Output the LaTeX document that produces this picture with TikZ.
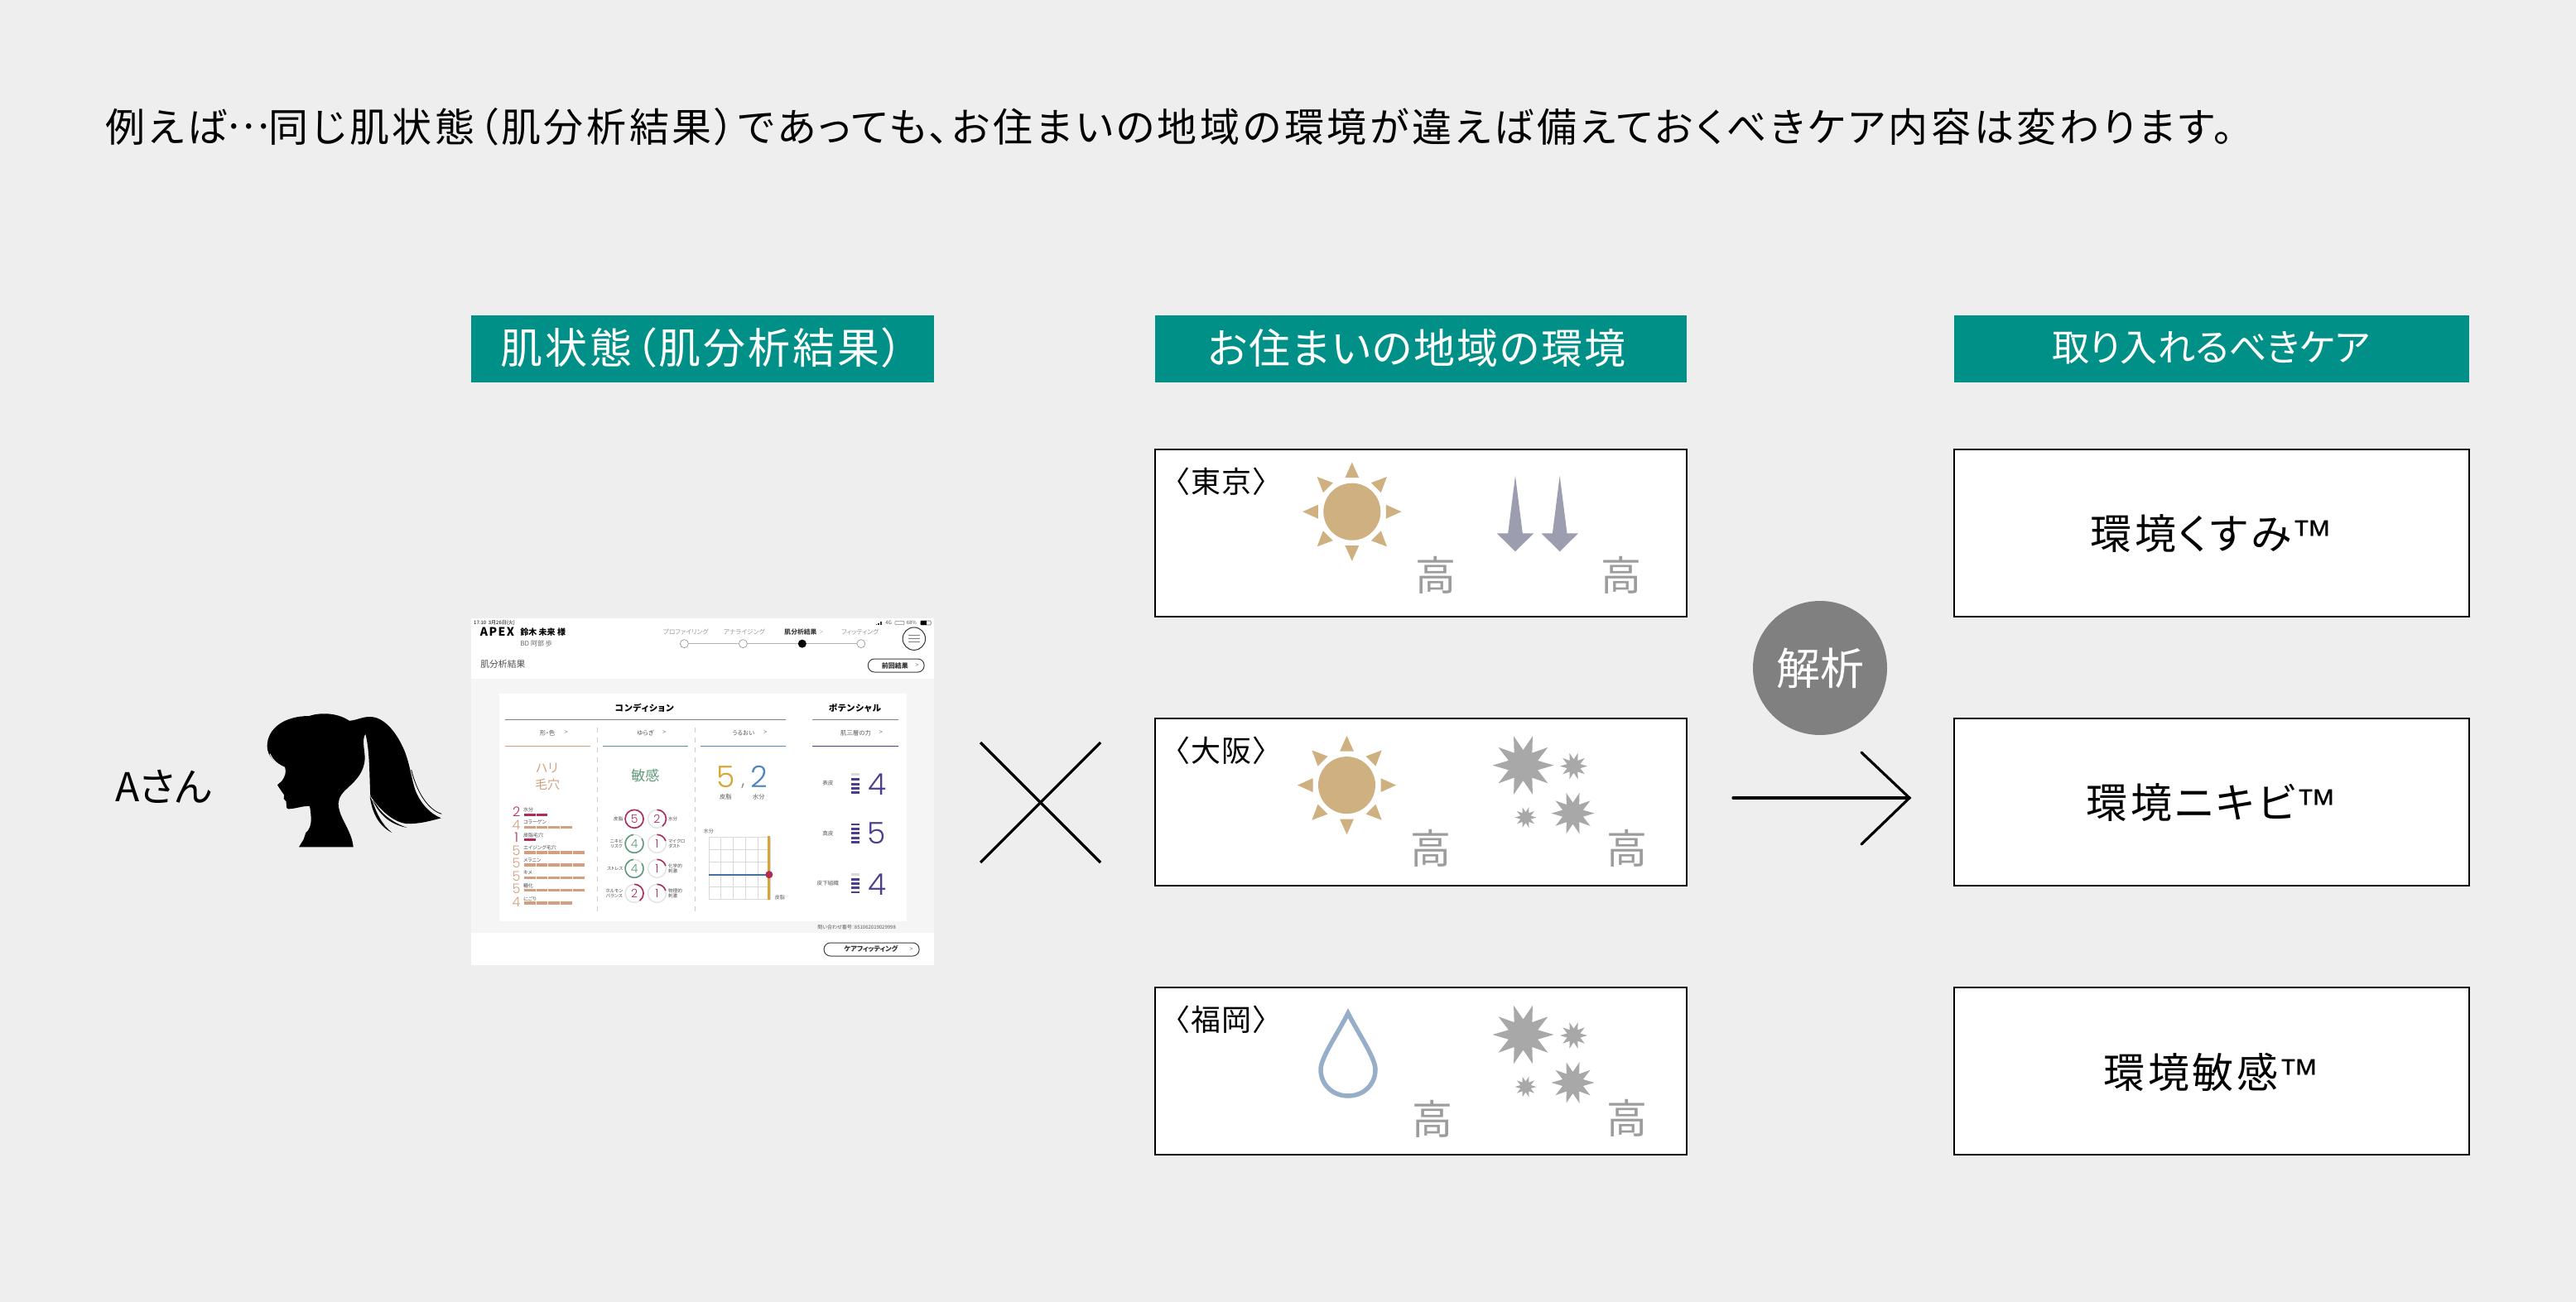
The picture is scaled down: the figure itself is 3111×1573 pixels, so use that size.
\documentclass[tikz,border=0pt]{standalone}
\usepackage{fontspec}
\setmainfont{Noto Sans CJK JP}[RawFeature=+palt]
\newfontfamily\numf{Poppins}[UprightFont={* Light}]
\newfontfamily\latf{Liberation Sans}
\usetikzlibrary{shapes.geometric}
\definecolor{bgc}{HTML}{EEEEEE}
\definecolor{teal}{HTML}{009088}
\definecolor{suncol}{HTML}{CFB080}
\definecolor{gaokao}{HTML}{9C9C9C}
\definecolor{arrowc}{HTML}{9C9EB0}
\definecolor{starc}{HTML}{A8A8A8}
\definecolor{dropc}{HTML}{97AEC8}
\definecolor{circc}{HTML}{808080}
\definecolor{crim}{HTML}{B02A55}
\definecolor{tanb}{HTML}{D39F7F}
\definecolor{grn}{HTML}{5F9A7D}
\definecolor{blu}{HTML}{4F85BD}
\definecolor{gold}{HTML}{D8A530}
\definecolor{purp}{HTML}{4A3F8F}
\definecolor{panel}{HTML}{F5F5F5}
\definecolor{ringbg}{HTML}{E2E2E2}
\newcommand\fsz[1]{\fontsize{#1}{#1}\selectfont\baselineskip=1.2\baselineskip}
\newcommand\tmark{{\latf\fontsize{25}{25}\selectfont ™}}
\tikzset{
  txt/.style={inner sep=0pt,outer sep=0pt,text=black},
  big/.style={txt,font=\fsz{24}},
  careword/.style={txt,font=\fsz{25}\addfontfeature{LetterSpace=7}},
  gao/.style={txt,text=gaokao,font=\fsz{24.5}},
  sunbody/.style={fill=suncol},
  tiny/.style={txt,text=black!65,font=\fsz{3}},
  chev/.style={txt,text=black!50,font=\fsz{4}},
  cardbox/.style={draw=black,fill=white,line width=1pt},
  burst/.style={star,star points=10,star point ratio=2,shape border rotate=18,fill=starc,inner sep=0pt,outer sep=0pt,draw=none},
  sunicon/.pic={
    \fill[sunbody] (0,0) circle[radius=34.5];
    \foreach \a in {0,45,...,315}{
      \fill[sunbody,rotate=\a] (0,-59.6) -- (8.4,-41) -- (-8.4,-41) -- cycle;
    }
  },
  darrow/.pic={
    \fill[arrowc] (0,-69.5) -- (8.8,0) -- (22.3,0) -- (0,22) -- (-22.3,0) -- (-8.8,0) -- cycle;
  },
  burstgroup/.pic={
    \node[burst,minimum size=37pt] (-a) at (0,0) {};
    \node[burst,minimum size=16.5pt] (-b) at (61,1) {};
    \node[burst,minimum size=26pt] (-c) at (60,58) {};
    \node[burst,minimum size=13pt] (-d) at (3,63) {};
  }
}
\begin{document}
\begin{tikzpicture}[x=0.5pt,y=-0.5pt]
\fill[bgc] (0,0) rectangle (3111,1573);
\useasboundingbox (0,0) rectangle (3111,1573);

% title
\node[txt,anchor=west,font=\fsz{24}\addfontfeature{LetterSpace=7.7}] (title) at (127,153) {例えば\raisebox{0.33em}{…}同じ肌状態（肌分析結果）であっても、お住まいの地域の環境が違えば備えておくべきケア内容は変わります。};

% headers
\fill[teal] (569,380.5) rectangle (1128,462);
\fill[teal] (1394.5,380.5) rectangle (2037,462);
\fill[teal] (2360,380.5) rectangle (2982,462);
\node[txt,text=white,font=\fsz{25.5}\addfontfeature{LetterSpace=6}] (h1) at (848,420) {肌状態（肌分析結果）};
\node[txt,text=white,font=\fsz{25}\addfontfeature{LetterSpace=4}] (h2) at (1711,420) {お住まいの地域の環境};
\node[txt,text=white,font=\fsz{22.6}] (h3) at (2670,420) {取り入れるべきケア};

% boxes
\foreach \n/\y in {a/543,b/868,c/1193}{
  \draw[cardbox] (1394.5,\y) rectangle (2037,\y+202);
  \draw[cardbox] (2360,\y) rectangle (2982,\y+202);
}
\node[txt,font=\fsz{18}\addfontfeature{LetterSpace=4},anchor=west] (lt) at (1419,582) {〈東京〉};
\node[txt,font=\fsz{18}\addfontfeature{LetterSpace=4},anchor=west] (lo) at (1419,907) {〈大阪〉};
\node[txt,font=\fsz{18}\addfontfeature{LetterSpace=4},anchor=west] (lf) at (1419,1232) {〈福岡〉};

\node[careword] (r1) at (2671,645) {環境くすみ\tmark};
\node[careword] (r2) at (2671,970) {環境ニキビ\tmark};
\node[careword] (r3) at (2671,1295) {環境敏感\tmark};

\pic at (1632.8,618.2) {sunicon};
\pic at (1626.5,948.6) {sunicon};
\pic at (1830,644.3) {darrow};
\pic at (1883.7,644.3) {darrow};
\pic (bo) at (1839.5,924.6) {burstgroup};
\pic (bf) at (1839.5,1250) {burstgroup};
\draw[dropc,line width=2.75pt] (1628,1224) .. controls (1616,1248) and (1595,1278) .. (1595,1292)
  .. controls (1595,1311) and (1610,1324) .. (1628,1324)
  .. controls (1646,1324) and (1661,1311) .. (1661,1292)
  .. controls (1661,1278) and (1640,1248) .. (1628,1224) -- cycle;

\node[gao] (g1) at (1734,695) {高};
\node[gao] (g2) at (1958,695) {高};
\node[gao] (g3) at (1728,1025) {高};
\node[gao] (g4) at (1965,1025) {高};
\node[gao] (g5) at (1730,1352) {高};
\node[gao] (g6) at (1965,1351) {高};

% analysis
\node[circle,fill=circc,minimum size=81pt,inner sep=0pt,text=white,font=\fsz{26.5}] (kai) at (2198,807) {解析};
\coordinate (as) at (2093,964);
\coordinate (ae) at (2306,964);
\coordinate (au) at (2248,909);
\coordinate (ad) at (2248,1020);
\draw[line width=1.6pt,line cap=round,line join=miter] (as) -- (ae);
\draw[line width=1.6pt,line cap=round,line join=miter] (au) -- (ae) -- (ad);
\coordinate (x1) at (1184,897);
\coordinate (x2) at (1329,1042);
\coordinate (x3) at (1329,897);
\coordinate (x4) at (1184,1042);
\draw[line width=1.6pt] (x1) -- (x2);
\draw[line width=1.6pt] (x3) -- (x4);

% person
\node[big,anchor=west] (aname) at (139,950) {Aさん};
\begin{scope}[shift={(100,840)},scale=0.33333]
\fill[black]
(668,185) .. controls (668,120) and (730,75) .. (820,75)
.. controls (860,62) and (920,62) .. (965,92)
.. controls (990,92) and (1010,78) .. (1040,78)
.. controls (1090,78) and (1135,130) .. (1165,200)
.. controls (1185,250) and (1190,300) .. (1205,345)
.. controls (1225,395) and (1260,430) .. (1298,445)
.. controls (1260,455) and (1215,468) .. (1170,465)
.. controls (1125,458) and (1080,420) .. (1042,365)
.. controls (1038,290) and (1040,200) .. (1024,140)
.. controls (1010,160) and (1022,200) .. (1022,230)
.. controls (1018,290) and (975,320) .. (950,345)
.. controls (930,365) and (922,385) .. (928,410)
.. controls (935,450) and (975,495) .. (980,550)
-- (783,550) -- (800,522) -- (808,498)
.. controls (820,490) and (828,470) .. (827,445)
.. controls (826,430) and (825,415) .. (822,402)
.. controls (795,400) and (770,412) .. (745,412)
.. controls (735,412) and (738,395) .. (737,385)
-- (728,375) -- (730,362) -- (718,345) -- (705,325) -- (722,310)
.. controls (732,295) and (738,280) .. (733,262)
.. controls (705,250) and (668,225) .. (668,185) -- cycle;
% loose strands of the ponytail
\fill[black] (1040,365) .. controls (1048,430) and (1075,475) .. (1120,498)
  .. controls (1085,470) and (1065,430) .. (1050,385) -- cycle;
\fill[black] (1050,380) .. controls (1080,445) and (1125,470) .. (1175,480)
  .. controls (1135,466) and (1090,440) .. (1062,395) -- cycle;
\draw[black,line width=0.4pt] (1190,270) .. controls (1210,350) and (1250,415) .. (1300,430);
\draw[bgc,line width=0.5pt] (678,212) .. controls (690,240) and (710,252) .. (732,262);
\end{scope}

% tablet screenshot (coordinates as read from the crop)
\begin{scope}[shift={(560,740)},xscale=0.36996,yscale=0.33333]
\fill[white] (24,20) rectangle (1536,1278);
\fill[panel] (24,240) rectangle (1536,1162);
\fill[white] (115,295) rectangle (1445,1120);

\node[txt,anchor=west,font=\fsz{3}] (s1) at (33,37) {17:10\ \ 3月26日(火)};
\node[txt,anchor=west,font=\bfseries\fsz{7}\addfontfeature{LetterSpace=10}] (s2) at (54,70) {APEX};
\node[txt,anchor=west,font=\bfseries\fsz{5}] (s3) at (185,70) {鈴木 未来 様};
\node[txt,anchor=west,text=black!60,font=\fsz{4}] (s4) at (185,113) {BD 阿部 歩};
\node[txt,text=black!40,font=\fsz{3.9}] (st1) at (725,71) {プロファイリング};
\node[txt,text=black!40,font=\fsz{3.9}] (st2) at (916,71) {アナライジング};
\node[txt,text=black!75,font=\bfseries\fsz{3.9}] (st3) at (1100,71) {肌分析結果};
\node[chev,text=black!25] (st3c) at (1168,71) {>};
\node[txt,text=black!40,font=\fsz{3.9}] (st4) at (1294,71) {フィッティング};
\draw[black!30,line width=0.4pt] (720,113) -- (1297,113);
\foreach \i/\x in {1/720,2/912,4/1297}{
  \node[circle,draw=black!40,fill=white,line width=0.35pt,minimum size=5pt,inner sep=0pt] (dot\i) at (\x,113) {};
}
\node[circle,fill=black,minimum size=5pt,inner sep=0pt] (dot3) at (1105,113) {};
% status
\fill[black!80] (1345,42) rectangle (1350,46);
\fill[black!80] (1352,38) rectangle (1357,46);
\fill[black!80] (1359,34) rectangle (1364,46);
\node[txt,text=black!65,font=\fsz{3}] (s5) at (1387,37) {4G};
\draw[black!50,line width=0.3pt,rounded corners=0.5pt] (1408,31) rectangle (1438,44);
\node[txt,text=black!65,font=\fsz{3}] (s6) at (1462,37) {68\%};
\draw[black!60,line width=0.3pt,rounded corners=0.5pt] (1491,30) rectangle (1525,45);
\fill[black] (1491,30) rectangle (1512,45);
% menu
\node[circle,draw=black!80,fill=white,line width=0.5pt,minimum size=13.7pt,inner sep=0pt] (menu) at (1470,95) {};
\foreach \y in {83,95,107}{ \draw[black!50,line width=0.5pt] (1452,\y) -- (1489,\y); }

\node[txt,anchor=west,text=black!70,font=\fsz{5.4}] (s7) at (55,187) {肌分析結果};
\node[draw=black!75,fill=white,line width=0.5pt,rounded corners=3.9pt,minimum width=33.9pt,minimum height=8pt,inner sep=0pt] (btn1) at (1411.5,192) {};
\node[txt,font=\bfseries\fsz{4},text=black!80] (btn1t) at (1408,192) {前回結果};
\node[chev] (btn1c) at (1480,192) {>};

\node[txt,font=\bfseries\fsz{5.3}\addfontfeature{LetterSpace=8}] (c1) at (590,345) {コンディション};
\node[txt,font=\bfseries\fsz{5.3}\addfontfeature{LetterSpace=8}] (c2) at (1277,345) {ポテンシャル};
\draw[black!50,line width=0.7pt] (135,388) -- (1052,388);
\draw[black!50,line width=0.7pt] (1138,388) -- (1420,388);

\node[tiny,font=\fsz{3.7}] (sh1) at (273,436) {形・色};
\node[chev] (sh1c) at (335,436) {>};
\node[tiny,font=\fsz{3.7}] (sh2) at (593,436) {ゆらぎ};
\node[chev] (sh2c) at (655,436) {>};
\node[tiny,font=\fsz{3.7}] (sh3) at (913,436) {うるおい};
\node[chev] (sh3c) at (985,436) {>};
\node[tiny,font=\fsz{3.7}] (sh4) at (1280,436) {肌三層の力};
\node[chev] (sh4c) at (1362,436) {>};
\draw[tanb,line width=0.5pt] (135,485) -- (413,485);
\draw[grn,line width=0.5pt] (453,485) -- (733,485);
\draw[blu,line width=0.5pt] (773,485) -- (1052,485);
\draw[purp,line width=0.5pt] (1138,485) -- (1420,485);
\draw[black!20,dashed,line width=0.3pt] (435,418) -- (435,1088);
\draw[black!20,dashed,line width=0.3pt] (755,418) -- (755,1088);

\node[txt,text=tanb,font=\fsz{7.5}] (harit) at (272,563) {ハリ};
\node[txt,text=tanb,font=\fsz{7.5}] (keana) at (273,622) {毛穴};
\node[txt,text=grn,font=\fsz{8.5}] (bink) at (593,592) {敏感};

\node[txt,text=gold,font=\numf\fsz{18}] (n5) at (857,595) {5};
\node[txt,text=black!50,font=\numf\fsz{11}] (ncomma) at (912,630) {,};
\node[txt,text=blu,font=\numf\fsz{18}] (n2) at (965,595) {2};
\node[tiny,font=\fsz{3.6}] (l1) at (855,667) {皮脂};
\node[tiny,font=\fsz{3.6}] (l2) at (963,667) {水分};

% score list
\foreach \i/\n/\lab/\yn/\yl/\yb/\col in {
  1/2/水分/723/715/733/crim,
  2/4/コラーゲン/770/760/778/tanb,
  3/1/皮脂毛穴/816/807/824/crim,
  4/5/エイジング毛穴/862/852/870/tanb,
  5/5/メラニン/908/898/915/tanb,
  6/5/キメ/955/944/961/tanb,
  7/5/糖化/1001/990/1007/tanb,
  8/4/にごり/1049/1037/1053/tanb}{
  \node[txt,text=\col,font=\numf\fsz{8}] (num\i) at (172,\yn) {\n};
  \node[txt,anchor=west,text=black!70,font=\fsz{3}] (lab\i) at (195,\yl) {\lab};
  \foreach \k in {1,...,\n}{
    \fill[\col] ({197+(\k-1)*40},{\yb-5}) rectangle ({197+\k*40-3},{\yb+5});
  }
}
% ring positions and labels
\foreach \i/\cx/\cy in {1/557/748,2/557/838,3/557/928,4/557/1018,5/631/748,6/631/838,7/631/928,8/631/1018}{
  \coordinate (ring\i) at (\cx,\cy);
}
\foreach \i/\y/\lab in {1/748/皮脂,2/838/{ニキビ\\リスク},3/928/ストレス,4/1018/{ホルモン\\バランス}}{
  \node[txt,anchor=east,align=center,text=black!70,font=\fsz{2.8}] (rl\i) at (520,\y) {\lab};
}
\foreach \i/\y/\lab in {5/748/水分,6/838/{マイクロ\\ダスト},7/928/{化学的\\刺激},8/1018/{物理的\\刺激}}{
  \node[txt,anchor=west,align=left,text=black!70,font=\fsz{2.8}] (rl\i) at (668,\y) {\lab};
}
% chart
\foreach \x in {800,840,880,920,960,1000}{ \draw[black!15,line width=0.3pt] (\x,815) -- (\x,1040); }
\foreach \y in {815,860,905,950,995,1040}{ \draw[black!15,line width=0.3pt] (800,\y) -- (1000,\y); }
\draw[gold,line width=1.5pt] (997,810) -- (997,1040);
\draw[blu!85!black,line width=1pt] (800,950) -- (997,950);
\node[circle,fill=crim,minimum size=4.5pt,inner sep=0pt] (cdot) at (997,950) {};
\node[tiny] (cx) at (800,792) {水分};
\node[tiny] (cy) at (1032,1032) {皮脂};
% potential
\node[tiny,font=\fsz{3.3}] (p1) at (1189,619) {表皮};
\node[tiny,font=\fsz{3.3}] (p2) at (1189,800) {真皮};
\node[tiny,font=\fsz{3.3}] (p3) at (1189,981) {皮下組織};
\foreach \y in {605,622,637,652,768,785,800,817,833,967,983,998,1014}{
  \fill[purp] (1264,\y-4) rectangle (1293,\y+4);
}
\fill[black!15] (1264,583) rectangle (1293,591);
\fill[black!15] (1264,946) rectangle (1293,954);
\node[txt,text=purp,font=\numf\fsz{18}] (pn1) at (1349,622) {4};
\node[txt,text=purp,font=\numf\fsz{18}] (pn2) at (1349,800) {5};
\node[txt,text=purp,font=\numf\fsz{18}] (pn3) at (1349,985) {4};

\node[tiny] (inq) at (1283,1141) {問い合わせ番号：851062019029998};
\node[draw=black!75,fill=white,line width=0.5pt,rounded corners=3.9pt,minimum width=57.5pt,minimum height=8pt,inner sep=0pt] (btn2) at (1331.5,1221) {};
\node[txt,font=\bfseries\fsz{4.1},text=black!80] (btn2t) at (1330,1220) {ケアフィッティング};
\node[chev] (btn2c) at (1461,1220) {>};
\end{scope}

% rings (outside the stretched scope so that they stay round)
\foreach \i/\n/\col/\sa/\da in {1/5/crim/90/-360,2/4/grn/35/-300,3/4/grn/35/-300,4/2/crim/90/-144,5/2/crim/90/-144,6/1/crim/90/-72,7/1/crim/90/-72,8/1/crim/90/-72}{
  \draw[ringbg,line width=0.7pt] (ring\i) circle[radius=5.5pt];
  \draw[\col,line width=0.8pt] (ring\i) ++(\sa:5.5pt) arc[start angle=\sa,delta angle=\da,radius=5.5pt];
  \node[txt,text=\col,font=\numf\fsz{7}] (rn\i) at (ring\i) {\n};
}
\end{tikzpicture}
\end{document}
